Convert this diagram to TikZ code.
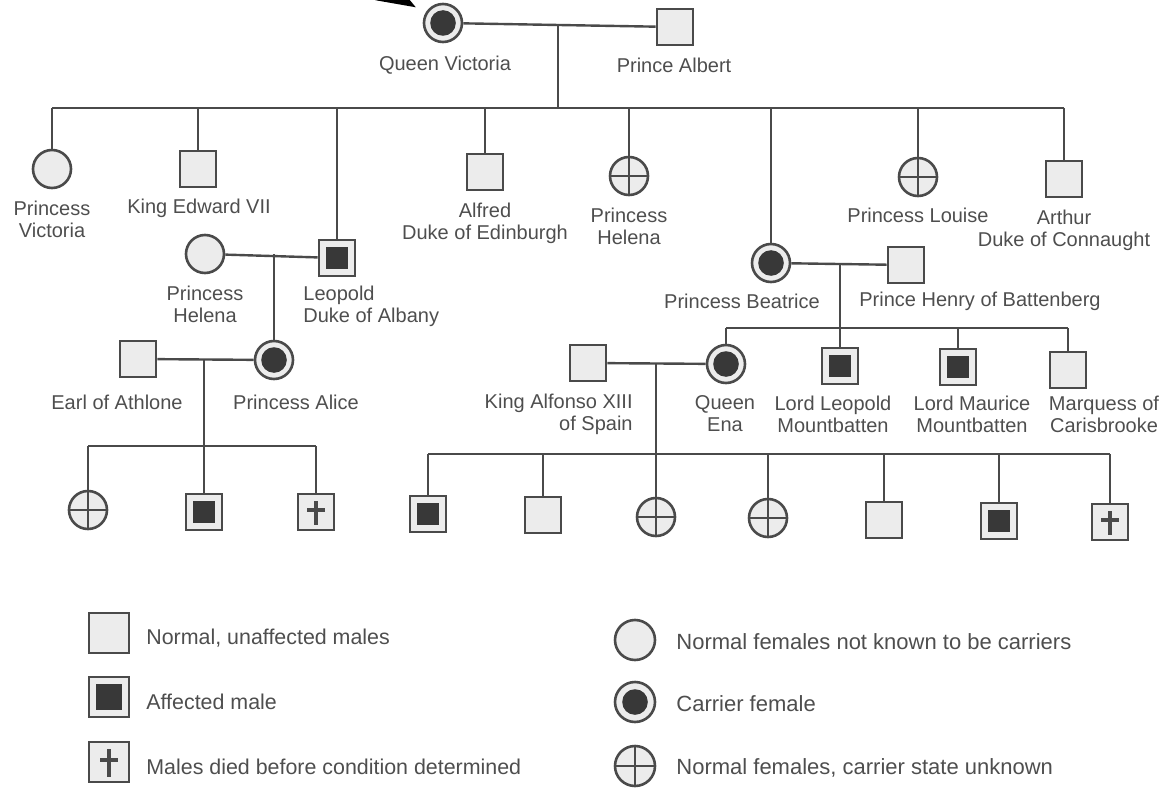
\documentclass[tikz,border=0pt]{standalone}
\usepackage{fontspec}
\setmainfont{Liberation Sans}
\usetikzlibrary{arrows.meta}
\definecolor{linegray}{HTML}{4A4A4A}
\definecolor{symfill}{HTML}{ECECEC}
\definecolor{symdark}{HTML}{383838}
\definecolor{labelgray}{HTML}{4E4E4E}
\tikzset{
  lin/.style={draw=linegray,line width=1.2pt},
  sym/.style={draw=linegray,line width=1.3pt,fill=symfill,inner sep=0pt},
  male/.style={sym,rectangle,minimum size=18pt},
  female/.style={sym,circle,minimum size=19pt},
  affmale/.style={male,path picture={\fill[symdark]
      ([shift={(3.4pt,3.4pt)}]path picture bounding box.south west) rectangle
      ([shift={(-3.4pt,-3.4pt)}]path picture bounding box.north east);}},
  carrier/.style={female,path picture={\fill[symdark]
      (path picture bounding box.center) circle (6.4pt);}},
  unkfemale/.style={female,path picture={\draw[linegray,line width=1.3pt]
      (path picture bounding box.north) -- (path picture bounding box.south)
      (path picture bounding box.west) -- (path picture bounding box.east);}},
  diedmale/.style={male,path picture={\draw[linegray,line width=1.6pt]
      ([yshift=-3.5pt]path picture bounding box.north) -- ([yshift=2.5pt]path picture bounding box.south)
      ([xshift=-4.5pt,yshift=1pt]path picture bounding box.center) -- ([xshift=4.5pt,yshift=1pt]path picture bounding box.center);}},
  keysym/.style={minimum size=20pt},
  lbl/.style={text=labelgray,align=center,inner sep=0pt,font=\fontsize{10}{11}\selectfont},
  keylbl/.style={lbl,anchor=west,font=\fontsize{10.7}{12}\selectfont},
  pointer/.style={black,line width=4pt,-{Triangle[length=20pt,width=13pt]}},
}

\begin{document}
\begin{tikzpicture}[x=0.5pt,y=-0.5pt]
  \useasboundingbox (0,0) rectangle (1162,792);
  % generation I
  \node[carrier] (qv) at (443,23) {};
  \node[male] (albert) at (675,27) {};
  \node[lbl] (lqv) at (445,65) {Queen Victoria};
  \node[lbl] (lalbert) at (674,65) {Prince Albert};
  \coordinate (ptr) at (357,-27);
  \coordinate (ptrtip) at (417,8);
  \draw[pointer] (ptr) -- (ptrtip);
  \coordinate (m0) at (558,25);
  \coordinate (sibA) at (558,108);
  \draw[lin] (qv) -- (albert);
  \draw[lin] (m0) -- (sibA);
  % generation II
  \node[female] (pvic) at (52,169) {};
  \node[male] (kedw) at (198,169) {};
  \node[affmale] (leo) at (337,258) {};
  \node[male] (alfred) at (485,172) {};
  \node[unkfemale] (helena) at (629,176) {};
  \node[carrier] (bea) at (771,263) {};
  \node[unkfemale] (louise) at (918,177) {};
  \node[male] (arthur) at (1064,179) {};
  \node[lbl] (lpvic) at (52,219) {Princess\\Victoria};
  \node[lbl] (lkedw) at (199,208) {King Edward VII};
  \node[lbl] (lalfred) at (485,223) {Alfred\\Duke of Edinburgh};
  \node[lbl] (lhelena) at (629,226) {Princess\\Helena};
  \node[lbl] (llouise) at (918,215) {Princess Louise};
  \node[lbl] (larthur) at (1064,230) {Arthur\\Duke of Connaught};
  \draw[lin] (pvic.north |- sibA) -- (arthur.north |- sibA);
  \foreach \c in {pvic,kedw,leo,alfred,helena,bea,louise,arthur}
    \draw[lin] (\c.north |- sibA) -- (\c.north);
  % spouses
  \node[female] (helenaw) at (205,254) {};
  \node[male] (henry) at (906,265) {};
  \node[lbl] (lhelenaw) at (205,304) {Princess\\Helena};
  \node[lbl,anchor=west,align=left] (lleo) at (303,306) {Leopold\\Duke of Albany};
  \node[lbl] (lbea) at (742,301) {Princess Beatrice};
  \node[lbl] (lhenry) at (980,301) {Prince Henry of Battenberg};
  \draw[lin] (helenaw) -- (leo);
  \draw[lin] (bea) -- (henry);
  % generation III
  \node[male] (earl) at (138,359) {};
  \node[carrier] (alice) at (274,360) {};
  \node[male] (alfonso) at (588,363) {};
  \node[carrier] (ena) at (726,364) {};
  \node[affmale] (llm) at (840,366) {};
  \node[affmale] (lmm) at (958,367) {};
  \node[male] (marq) at (1068,370) {};
  \node[lbl] (learl) at (117,402) {Earl of Athlone};
  \node[lbl] (lalice) at (296,402) {Princess Alice};
  \node[lbl,anchor=east,align=right] (lalfonso) at (633,414) {King Alfonso XIII\\of Spain};
  \node[lbl] (lena) at (725,414) {Queen\\Ena};
  \node[lbl] (lllm) at (833,414) {Lord Leopold\\Mountbatten};
  \node[lbl] (llmm) at (972,414) {Lord Maurice\\Mountbatten};
  \node[lbl] (lmarq) at (1104,414) {Marquess of\\Carisbrooke};
  \coordinate (sibB) at (839,328);
  \draw[lin] (alice.north |- helenaw) -- (alice.north);
  \draw[lin] (llm.north |- bea) -- (llm.north);
  \draw[lin] (ena.north |- sibB) -- (marq.north |- sibB);
  \foreach \c in {ena,lmm,marq}
    \draw[lin] (\c.north |- sibB) -- (\c.north);
  \draw[lin] (earl) -- (alice);
  \draw[lin] (alfonso) -- (ena);
  % generation IV
  \node[unkfemale] (c1) at (88,510) {};
  \node[affmale] (c2) at (204,512) {};
  \node[diedmale] (c3) at (316,512) {};
  \node[affmale] (d1) at (428,514) {};
  \node[male] (d2) at (543,515) {};
  \node[unkfemale] (d3) at (656,517) {};
  \node[unkfemale] (d4) at (768,518) {};
  \node[male] (d5) at (884,520) {};
  \node[affmale] (d6) at (999,521) {};
  \node[diedmale] (d7) at (1110,522) {};
  \coordinate (sibC) at (204,446);
  \coordinate (sibD) at (656,454);
  \draw[lin] (c2.north |- earl) -- (c2.north);
  \draw[lin] (c1.north |- sibC) -- (c3.north |- sibC);
  \foreach \c in {c1,c3}
    \draw[lin] (\c.north |- sibC) -- (\c.north);
  \draw[lin] (d3.north |- alfonso) -- (d3.north);
  \draw[lin] (d1.north |- sibD) -- (d7.north |- sibD);
  \foreach \c in {d1,d2,d4,d5,d6,d7}
    \draw[lin] (\c.north |- sibD) -- (\c.north);
  % key
  \node[male,keysym] (kmale) at (109,633) {};
  \node[affmale,keysym] (kaff) at (109,697) {};
  \node[diedmale,keysym] (kdied) at (109,762) {};
  \node[female,keysym] (kfem) at (635,640) {};
  \node[carrier,keysym] (kcar) at (635,702) {};
  \node[unkfemale,keysym] (kunk) at (635,766) {};
  \node[keylbl] (tmale) at (146,638) {Normal, unaffected males};
  \node[keylbl] (taff) at (146,702) {Affected male};
  \node[keylbl] (tdied) at (146,767) {Males died before condition determined};
  \node[keylbl,font=\fontsize{11}{12}\selectfont] (tfem) at (676,642) {Normal females not known to be carriers};
  \node[keylbl,font=\fontsize{11}{12}\selectfont] (tcar) at (676,704) {Carrier female};
  \node[keylbl,font=\fontsize{11}{12}\selectfont] (tunk) at (676,768) {Normal females, carrier state unknown};
\end{tikzpicture}
\end{document}
